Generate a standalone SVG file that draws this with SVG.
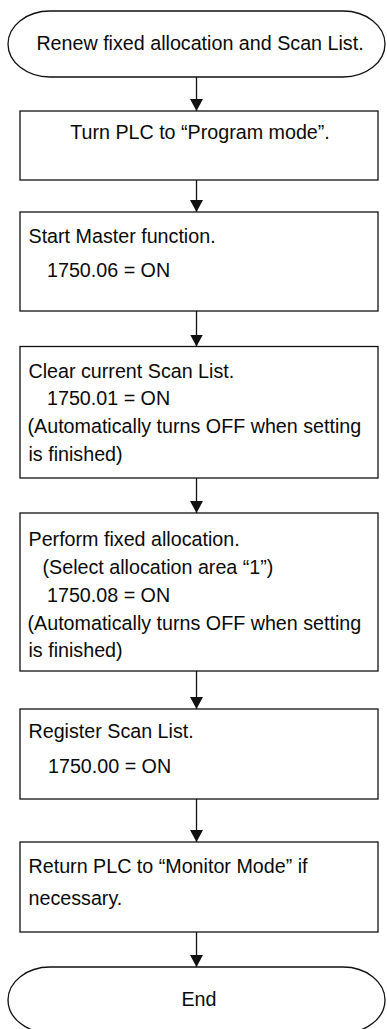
<svg xmlns="http://www.w3.org/2000/svg" width="387" height="1029" viewBox="0 0 387 1029">
<style>
.shape{fill:#fff;stroke:#111;stroke-width:1.3}
.t{font-family:"Liberation Sans",Arial,sans-serif;font-size:19.7px;fill:#0a0a0a}
.c{text-anchor:middle}
.conn{stroke:#111;stroke-width:1.3;fill:none;marker-end:url(#ah)}
</style>
<defs>
<marker id="ah" viewBox="0 0 12 13" refX="12" refY="6.5" markerWidth="12" markerHeight="13" markerUnits="userSpaceOnUse" orient="auto">
<path d="M0 0 L12 6.5 L0 13 Z" fill="#111"/>
</marker>
</defs>
<rect width="387" height="1029" fill="#fff"/>
<g id="connectors">
<line class="conn" x1="196.5" y1="77" x2="196.5" y2="111"/>
<line class="conn" x1="196.5" y1="180" x2="196.5" y2="212"/>
<line class="conn" x1="196.5" y1="311" x2="196.5" y2="346.5"/>
<line class="conn" x1="196.5" y1="478" x2="196.5" y2="513"/>
<line class="conn" x1="196.5" y1="671" x2="196.5" y2="709"/>
<line class="conn" x1="196.5" y1="799" x2="196.5" y2="842"/>
<line class="conn" x1="196.5" y1="932" x2="196.5" y2="967"/>
</g>
<g id="start">
<path class="shape" d="M50 11 H343 A42 33 0 0 1 343 77 H50 A42 33 0 0 1 50 11 Z"/>
<text class="t c" x="200" y="50">Renew fixed allocation and Scan List.</text>
</g>
<g id="step1">
<rect class="shape" x="20" y="111" width="358" height="69"/>
<text class="t c" x="200" y="139">Turn PLC to “Program mode”.</text>
</g>
<g id="step2">
<rect class="shape" x="20" y="212" width="358" height="99"/>
<text class="t" x="28.5" y="243">Start Master function.</text>
<text class="t" x="47" y="277">1750.06 = ON</text>
</g>
<g id="step3">
<rect class="shape" x="20" y="346.5" width="358" height="131.5"/>
<text class="t" x="28.5" y="378">Clear current Scan List.</text>
<text class="t" x="47" y="405">1750.01 = ON</text>
<text class="t" x="27.5" y="433">(Automatically turns OFF when setting</text>
<text class="t" x="28.5" y="461">is finished)</text>
</g>
<g id="step4">
<rect class="shape" x="20" y="513" width="358" height="158"/>
<text class="t" x="28.5" y="546">Perform fixed allocation.</text>
<text class="t" x="42.5" y="574">(Select allocation area “1”)</text>
<text class="t" x="47" y="602">1750.08 = ON</text>
<text class="t" x="27.5" y="630">(Automatically turns OFF when setting</text>
<text class="t" x="28.5" y="657">is finished)</text>
</g>
<g id="step5">
<rect class="shape" x="20" y="709" width="358" height="90"/>
<text class="t" x="28.5" y="738">Register Scan List.</text>
<text class="t" x="48" y="773">1750.00 = ON</text>
</g>
<g id="step6">
<rect class="shape" x="20" y="842" width="358" height="90"/>
<text class="t" x="28.5" y="873">Return PLC to “Monitor Mode” if</text>
<text class="t" x="28.5" y="905">necessary.</text>
</g>
<g id="end">
<path class="shape" d="M50 967 H343 A42 33 0 0 1 343 1033 H50 A42 33 0 0 1 50 967 Z"/>
<text class="t c" x="199" y="1006">End</text>
</g>
</svg>
